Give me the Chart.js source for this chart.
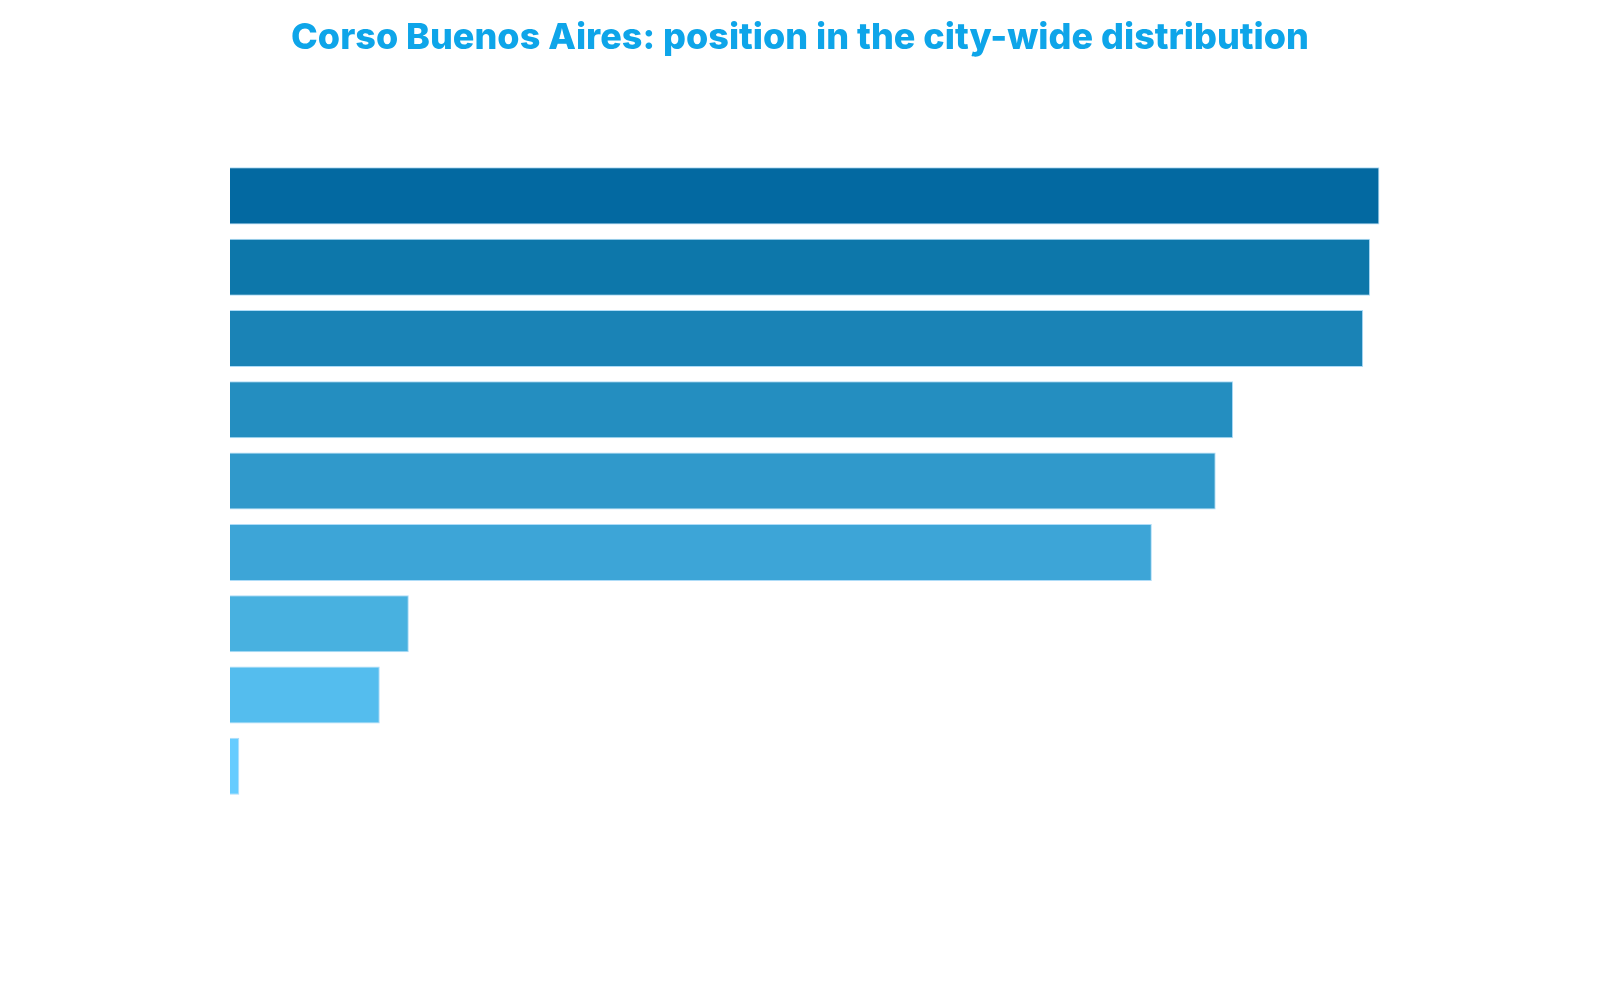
<!DOCTYPE html>
<html>
<head>
<meta charset="utf-8">
<script src="https://cdn.jsdelivr.net/npm/chart.js@4"></script>
<style>
  html, body { margin: 0; padding: 0; background: #fff; }
  #wrap { width: 1600px; height: 1000px; }
</style>
</head>
<body>
<div id="wrap"><canvas id="chart"></canvas></div>
<script>
// rows of the distribution, top to bottom (no labels shown in the picture)
const categories = ["1", "2", "3", "4", "5", "6", "7", "8", "9"];
const values = [99, 98.2, 97.6, 86.4, 84.9, 79.4, 15.4, 12.9, 0.8];
const barColors = ["#0369A1", "#0D77AA", "#1A83B6", "#248EC0", "#3099CB", "#3DA5D7", "#48B1E0", "#54BDEE", "#66CCFF"];
const titleText = "Corso Buenos Aires: position in the city-wide distribution";

const ctx = document.getElementById("chart").getContext("2d");
new Chart(ctx, {
  type: "bar",
  data: {
    labels: categories,
    datasets: [{
      data: values,
      backgroundColor: barColors,
      borderColor: "rgba(140,205,245,0.7)",
      borderWidth: 1,
      barPercentage: 1,
      categoryPercentage: 0.8
    }]
  },
  options: {
    indexAxis: "y",
    responsive: true,
    maintainAspectRatio: false,
    animation: false,
    // symmetric padding keeps the title centred on the page
    layout: { padding: { left: 209, right: 209, top: 0, bottom: 198 } },
    plugins: {
      legend: { display: false },
      tooltip: { enabled: false },
      title: {
        display: true,
        text: titleText,
        color: "#0EA5E9",
        font: { family: "Inter", size: 36, weight: "800" },
        padding: { top: 17, bottom: 100 }
      }
    },
    scales: {
      x: { display: false, min: 0, max: 100 },
      y: {
        display: true,
        ticks: { display: false },
        grid: { display: false },
        border: { display: false },
        afterFit: axis => { axis.width = 21; }
      }
    }
  }
});
</script>
</body>
</html>
